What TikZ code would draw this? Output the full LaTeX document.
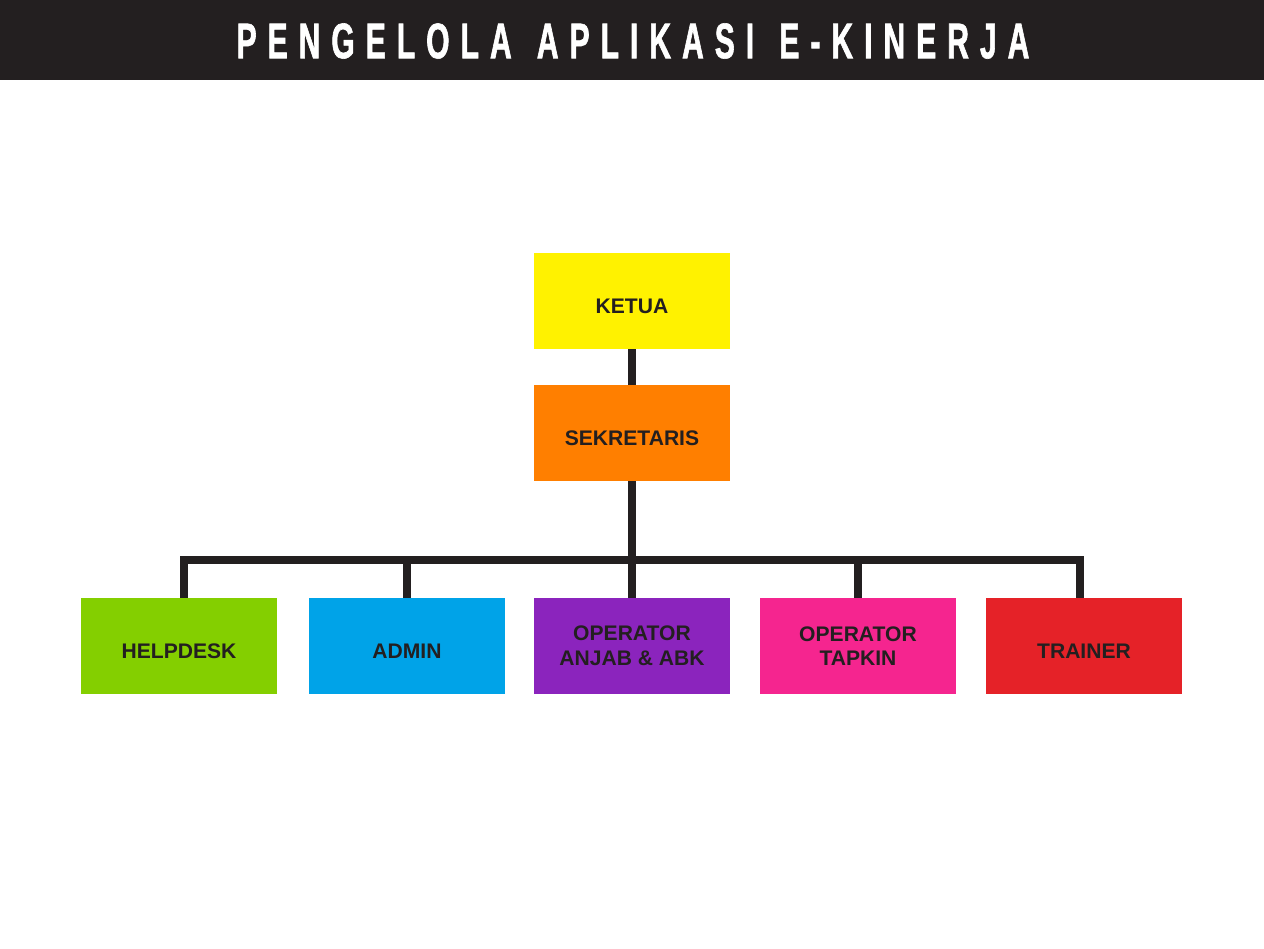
\documentclass[tikz,border=0pt]{standalone}
\usepackage{fontspec}
\setmainfont{Liberation Sans}
\newfontfamily\titlefont[FakeStretch=0.6,LetterSpace=22,WordSpace=1.3,FakeBold=1.2]{Liberation Sans Bold}
\usetikzlibrary{positioning}
\definecolor{ink}{RGB}{35,31,32}
\definecolor{cketua}{RGB}{255,242,0}
\definecolor{csekre}{RGB}{255,127,0}
\definecolor{chelp}{RGB}{132,207,0}
\definecolor{cadmin}{RGB}{0,163,232}
\definecolor{canjab}{RGB}{139,36,189}
\definecolor{ctapkin}{RGB}{245,37,143}
\definecolor{ctrainer}{RGB}{229,34,40}
\tikzset{
  unit/.style={fill=#1, minimum width=3.92cm, minimum height=1.92cm, inner sep=0pt,
    align=center, text=ink, font=\bfseries\fontsize{12}{14}\selectfont},
  single/.style={text height=1.4em, text depth=0pt},
  conn/.style={draw=ink, line width=4.5pt, line join=miter}
}

\begin{document}
\begin{tikzpicture}[x=0.02cm, y=-0.02cm]
			%%%%% START %%%%%
			
			\useasboundingbox (0, 0) rectangle (1264, 948);
			\fill[white] (0, 0) rectangle (1264, 948);
			
			\fill[ink] (0, 0) rectangle (1264, 80);
			\node[text=white, font=\titlefont\fontsize{28.5}{30}\selectfont] (title) at (633, 41) {PENGELOLA APLIKASI E-KINERJA};
			
			\node[unit=cketua, single] (ketua) at (632, 301) {KETUA};
			\node[unit=csekre, single] (sekretaris) at (632, 433) {SEKRETARIS};
			
			\node[unit=chelp, single] (helpdesk) at (179, 646) {HELPDESK};
			\node[unit=cadmin, single] (admin) at (407, 646) {ADMIN};
			\node[unit=canjab] (anjab) at (632, 646) {OPERATOR\\ANJAB \& ABK};
			\node[unit=ctapkin] (tapkin) at (858, 646) {OPERATOR\\TAPKIN};
			\node[unit=ctrainer, single] (trainer) at (1084, 646) {TRAINER};
			
			\coordinate (bar) at (632, 560);
			\draw[conn] (ketua.south) -- (sekretaris.north);
			\draw[conn] (sekretaris.south) -- (bar);
			\draw[conn] (bar) -| ([xshift=5*0.02cm]helpdesk.north);
			\draw[conn] (bar) -| (admin.north);
			\draw[conn] (bar) -- (anjab.north);
			\draw[conn] (bar) -| (tapkin.north);
			\draw[conn] (bar) -| ([xshift=-4*0.02cm]trainer.north);
			
			%%%%% END %%%%%
\end{tikzpicture}
\end{document}
